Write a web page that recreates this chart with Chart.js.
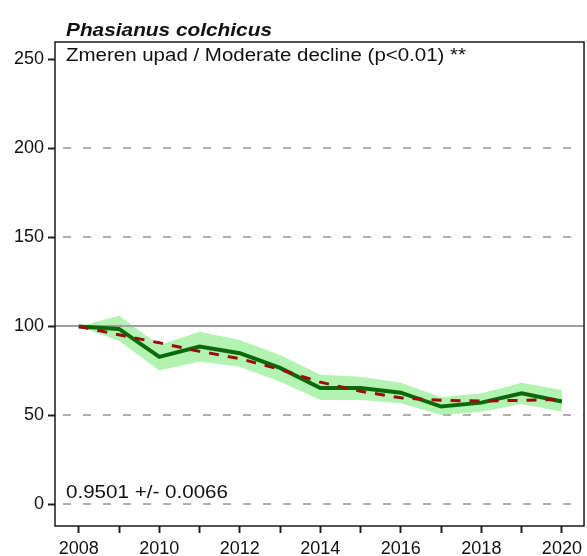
<!DOCTYPE html>
<html>
<head>
<meta charset="utf-8">
<script src="https://cdn.jsdelivr.net/npm/chart.js@4.4.1/dist/chart.umd.min.js"></script>
<style>
  html, body { margin: 0; padding: 0; background: #fff; }
  #wrap { width: 587px; height: 556px; }
</style>
</head>
<body>
<div id="wrap"><canvas id="c" width="587" height="556"></canvas></div>
<script>
// Population index of Phasianus colchicus, 2008 = 100
const years = [2008, 2009, 2010, 2011, 2012, 2013, 2014, 2015, 2016, 2017, 2018, 2019, 2020];
const indexValues = [100, 98.6, 82.9, 88.7, 85.0, 76.7, 65.4, 65.4, 62.8, 55.0, 57.2, 62.5, 57.8];
const ciUpper = [100, 106, 89.6, 97.0, 92.4, 84.0, 72.8, 71.8, 68.4, 60.2, 62.5, 68.4, 64.3];
const ciLower = [100, 92.0, 75.2, 80.2, 77.4, 69.0, 58.7, 58.7, 56.8, 50.3, 52.1, 56.5, 52.1];
const trendValues = [100, 95.3, 90.8, 86.0, 81.9, 75.9, 68.7, 63.6, 59.9, 58.5, 58.1, 58.5, 59.0];
const yTickValues = [0, 50, 100, 150, 200, 250];
const dashedGridValues = [0, 50, 150, 200];
const solidGridValue = 100;
const speciesName = 'Phasianus colchicus';
const trendText = 'Zmeren upad / Moderate decline (p<0.01) **';
const slopeText = '0.9501 +/- 0.0066';

const FONT = '"Liberation Sans", Arial, sans-serif';
const pts = arr => years.map((y, i) => ({ x: y, y: arr[i] }));

// Reference lines (dashed grey, solid at 100), drawn above the band but below the lines
const gridPlugin = {
  id: 'refLines',
  beforeDatasetsDraw(chart) {
    const { ctx, chartArea: a, scales: { y } } = chart;
    ctx.save();
    ctx.beginPath();
    ctx.rect(a.left, a.top, a.right - a.left, a.bottom - a.top);
    ctx.clip();
    ctx.lineWidth = 2;
    ctx.strokeStyle = '#b0b0b0';
    ctx.setLineDash([8, 12]);
    dashedGridValues.forEach(v => {
      const py = Math.round(y.getPixelForValue(v));
      ctx.beginPath();
      ctx.moveTo(a.left + 8, py);
      ctx.lineTo(a.right, py);
      ctx.stroke();
    });
    ctx.setLineDash([]);
    ctx.strokeStyle = '#a0a0a0';
    const p100 = Math.round(y.getPixelForValue(solidGridValue));
    ctx.beginPath();
    ctx.moveTo(a.left, p100);
    ctx.lineTo(a.right, p100);
    ctx.stroke();
    ctx.restore();
  }
};

// Draws a text line stretched horizontally to a given width
function wideText(ctx, text, x, y, font, width) {
  ctx.save();
  ctx.font = font;
  const w = ctx.measureText(text).width;
  ctx.translate(x, y);
  ctx.scale(width / w, 1);
  ctx.fillText(text, 0, 0);
  ctx.restore();
}

// Plot frame and text annotations
const framePlugin = {
  id: 'frame',
  afterDraw(chart) {
    const { ctx, chartArea: a } = chart;
    ctx.save();
    ctx.strokeStyle = '#1a1a1a';
    ctx.lineWidth = 1.5;
    ctx.strokeRect(a.left, a.top, a.right - a.left, a.bottom - a.top);
    ctx.fillStyle = '#111';
    ctx.textBaseline = 'alphabetic';
    ctx.textAlign = 'left';
    wideText(ctx, speciesName, 66, 36, 'italic bold 19px ' + FONT, 206);
    wideText(ctx, trendText, 66, 61, '18px ' + FONT, 400);
    wideText(ctx, slopeText, 66, 498, '18px ' + FONT, 162);
    ctx.restore();
  }
};

new Chart(document.getElementById('c'), {
  type: 'line',
  data: {
    datasets: [
      {
        label: 'upper',
        data: pts(ciUpper),
        borderWidth: 0,
        borderColor: 'rgba(0,0,0,0)',
        backgroundColor: '#b2f3b2',
        pointRadius: 0,
        fill: '+1',
        order: 4
      },
      {
        label: 'lower',
        data: pts(ciLower),
        borderWidth: 0,
        borderColor: 'rgba(0,0,0,0)',
        pointRadius: 0,
        fill: false,
        order: 3
      },
      {
        label: 'index',
        data: pts(indexValues),
        borderColor: '#0a6a0a',
        borderWidth: 4,
        pointRadius: 0,
        fill: false,
        order: 2
      },
      {
        label: 'trend',
        data: pts(trendValues),
        borderColor: '#9c0c0c',
        borderWidth: 3,
        borderDash: [10, 9],
        pointRadius: 0,
        fill: false,
        order: 1
      }
    ]
  },
  options: {
    responsive: false,
    animation: false,
    devicePixelRatio: 1,
    layout: { padding: { top: 42, right: 2, left: 0, bottom: 0 } },
    plugins: {
      legend: { display: false },
      tooltip: { enabled: false },
      filler: { drawTime: 'beforeDatasetsDraw' }
    },
    scales: {
      x: {
        type: 'linear',
        min: 2007.41,
        max: 2020.55,
        afterBuildTicks: s => { s.ticks = years.map(v => ({ value: v })); },
        afterFit: s => { s.height = 30; },
        grid: { drawOnChartArea: false, drawTicks: true, tickLength: 7, tickWidth: 2, tickColor: '#222' },
        border: { display: false },
        ticks: {
          autoSkip: false,
          maxRotation: 0,
          padding: 5,
          color: '#111',
          font: { family: FONT, size: 18 },
          callback: v => (v % 2 === 0 ? String(v) : '')
        }
      },
      y: {
        type: 'linear',
        min: -12.1,
        max: 259.8,
        afterBuildTicks: s => { s.ticks = yTickValues.map(v => ({ value: v })); },
        afterFit: s => { s.width = 55; },
        grid: { drawOnChartArea: false, drawTicks: true, tickLength: 7, tickWidth: 2, tickColor: '#222' },
        border: { display: false },
        ticks: {
          padding: 4,
          color: '#111',
          font: { family: FONT, size: 18 }
        }
      }
    }
  },
  plugins: [gridPlugin, framePlugin]
});
</script>
</body>
</html>
